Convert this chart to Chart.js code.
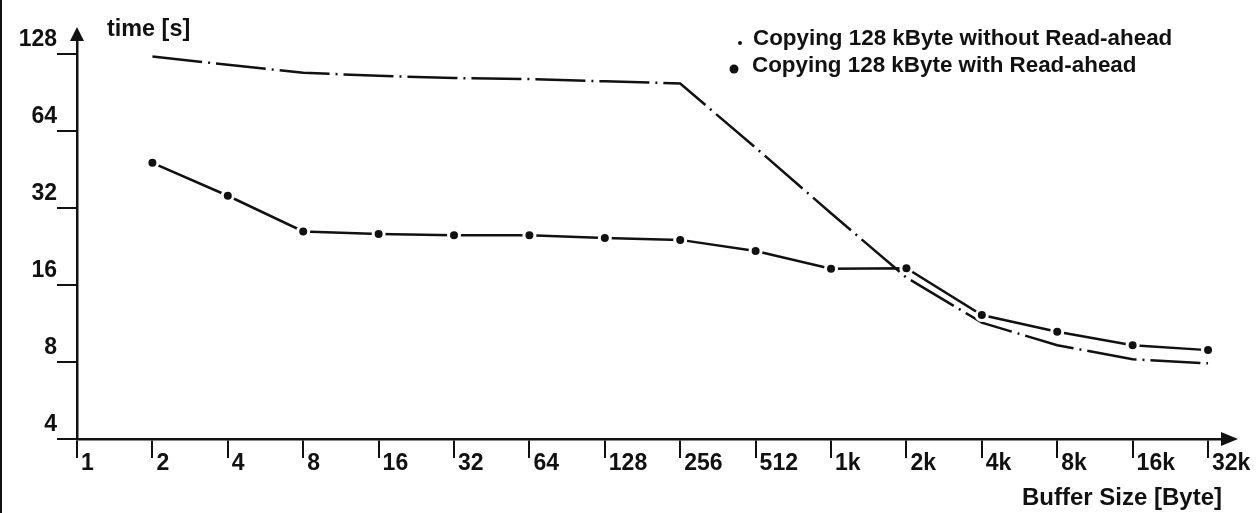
<!DOCTYPE html>
<html>
<head>
<meta charset="utf-8">
<script src="https://cdn.jsdelivr.net/npm/chart.js@4.4.0/dist/chart.umd.min.js"></script>
<style>
  html, body { margin: 0; padding: 0; background: #fff; }
  #wrap { width: 1259px; height: 513px; }
</style>
</head>
<body>
<div id="wrap"><canvas id="readAheadChart" width="1259" height="513"></canvas></div>
<script>
// Buffer sizes in bytes (x), copy times in seconds (y)
const bufferSizes = [2, 4, 8, 16, 32, 64, 128, 256, 512, 1024, 2048, 4096, 8192, 16384, 32768];
const timeWithoutReadAhead = [125, 116, 108, 105, 103, 102, 100, 98, 55, 30.5, 17.1, 11.4, 9.3, 8.2, 7.9];
const timeWithReadAhead = [48, 35.7, 25.9, 25.3, 25.0, 25.0, 24.4, 24.0, 21.7, 18.5, 18.6, 12.2, 10.5, 9.3, 8.9];

const xTickValues = [1, 2, 4, 8, 16, 32, 64, 128, 256, 512, 1024, 2048, 4096, 8192, 16384, 32768];
const xTickLabels = ['1', '2', '4', '8', '16', '32', '64', '128', '256', '512', '1k', '2k', '4k', '8k', '16k', '32k'];
const yTickValues = [4, 8, 16, 32, 64, 128];
const yTickLabels = ['4', '8', '16', '32', '64', '128'];

const seriesLabels = ['Copying 128 kByte without Read-ahead', 'Copying 128 kByte with Read-ahead'];

const ink = '#111';
const fontFamily = '"Liberation Sans", Arial, Helvetica, sans-serif';

// arrows, axis title, legend and the scan edge
const decorations = {
    id: 'decorations',
    afterDraw(chart) {
        const c = chart.ctx;
        const area = chart.chartArea;
        c.save();
        c.fillStyle = ink;

        // left edge of the scanned page
        c.fillRect(0, 0, 2, chart.height);

        // y axis arrow
        c.beginPath();
        c.moveTo(area.left, 27);
        c.lineTo(area.left - 7, area.top + 1);
        c.lineTo(area.left + 7, area.top + 1);
        c.closePath();
        c.fill();

        // x axis arrow
        c.beginPath();
        c.moveTo(area.right + 16, area.bottom);
        c.lineTo(area.right - 1, area.bottom - 7);
        c.lineTo(area.right - 1, area.bottom + 7);
        c.closePath();
        c.fill();

        c.textBaseline = 'alphabetic';
        c.textAlign = 'left';
        c.font = 'bold 23.4px ' + fontFamily;
        c.fillText('time [s]', 107, 36);

        // legend
        c.font = 'bold 22.4px ' + fontFamily;
        c.beginPath();
        c.arc(740, 43, 2, 0, Math.PI * 2);
        c.fill();
        c.fillText(seriesLabels[0], 753, 45);
        c.beginPath();
        c.arc(734, 69, 4.5, 0, Math.PI * 2);
        c.fill();
        c.fillText(seriesLabels[1], 752, 72);
        c.restore();
    }
};

new Chart(document.getElementById('readAheadChart'), {
    type: 'line',
    data: {
        datasets: [
            {
                label: seriesLabels[1],
                data: bufferSizes.map((b, i) => ({ x: b, y: timeWithReadAhead[i] })),
                borderColor: ink,
                borderWidth: 2.5,
                pointRadius: 5.5,
                pointBorderWidth: 3,
                pointBorderColor: '#fff',
                pointBackgroundColor: ink,
                tension: 0
            },
            {
                label: seriesLabels[0],
                data: bufferSizes.map((b, i) => ({ x: b, y: timeWithoutReadAhead[i] })),
                borderColor: ink,
                borderWidth: 2.5,
                borderDash: [50, 6, 2, 6],
                pointRadius: 0,
                tension: 0
            }
        ]
    },
    options: {
        responsive: false,
        animation: false,
        events: [],
        layout: { padding: { top: 40, right: 37, left: 0, bottom: 0 } },
        plugins: {
            legend: { display: false },
            tooltip: { enabled: false }
        },
        scales: {
            x: {
                type: 'logarithmic',
                min: 1,
                max: 37260,
                afterBuildTicks: s => { s.ticks = xTickValues.map(v => ({ value: v })); },
                afterFit: s => { s.height = 74; },
                grid: { drawOnChartArea: false, drawTicks: true, tickLength: 19, tickColor: ink, lineWidth: 2 },
                border: { display: true, color: ink, width: 2.5 },
                ticks: {
                    autoSkip: false,
                    maxRotation: 0,
                    align: 'start',
                    labelOffset: 4,
                    padding: -8,
                    color: ink,
                    font: { family: fontFamily, size: 23, weight: 'bold' },
                    callback: (v, i) => xTickLabels[i]
                },
                title: {
                    display: true,
                    text: 'Buffer Size [Byte]',
                    align: 'end',
                    color: ink,
                    font: { family: fontFamily, size: 24, weight: 'bold' },
                    padding: { top: 0, bottom: 0 }
                }
            },
            y: {
                type: 'logarithmic',
                min: 4,
                max: 145,
                afterBuildTicks: s => { s.ticks = yTickValues.map(v => ({ value: v })); },
                afterFit: s => { s.width = 77; },
                grid: { drawOnChartArea: false, drawTicks: true, tickLength: 20, tickColor: ink, lineWidth: 2 },
                border: { display: true, color: ink, width: 2.5 },
                ticks: {
                    autoSkip: false,
                    padding: 0,
                    labelOffset: -14,
                    color: ink,
                    font: { family: fontFamily, size: 23, weight: 'bold' },
                    callback: (v, i) => yTickLabels[i]
                }
            }
        }
    },
    plugins: [decorations]
});
</script>
</body>
</html>
